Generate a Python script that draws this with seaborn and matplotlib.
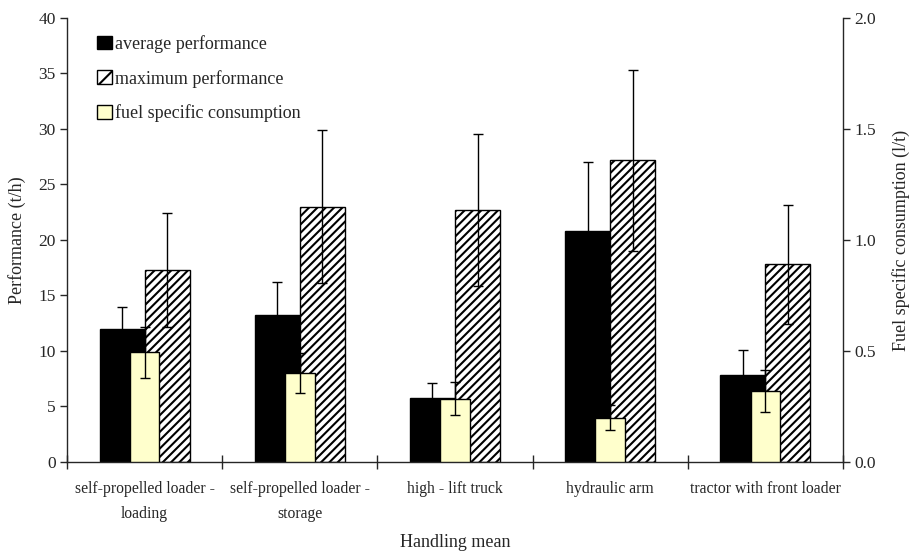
import matplotlib
matplotlib.use("Agg")
import matplotlib.pyplot as plt
from matplotlib.patches import Patch
import numpy as np
import pandas as pd
import seaborn as sns

# Handling means and measured values
categories = [
    "self-propelled loader -\nloading",
    "self-propelled loader -\nstorage",
    "high - lift truck",
    "hydraulic arm",
    "tractor with front loader",
]
avg_perf = [12.0, 13.2, 5.8, 20.8, 7.8]
avg_perf_sd = [2.0, 3.0, 1.35, 6.2, 2.3]
max_perf = [17.3, 23.0, 22.7, 27.2, 17.8]
max_perf_sd = [5.1, 6.9, 6.85, 8.15, 5.35]
fuel_cons = [0.495, 0.40, 0.285, 0.20, 0.32]
fuel_cons_sd = [0.115, 0.09, 0.075, 0.056, 0.096]

series_names = ["average performance", "maximum performance"]
yellow = "#FFFFCC"

sns.set_style("ticks")
plt.rcParams["font.family"] = ["Liberation Serif", "DejaVu Serif"]
plt.rcParams["hatch.linewidth"] = 1.5
plt.rcParams["hatch.color"] = "black"

perf = pd.DataFrame({
    "mean": categories * 2,
    "series": [series_names[0]] * 5 + [series_names[1]] * 5,
    "value": avg_perf + max_perf,
})

fig = plt.figure(figsize=(9.09, 5.53), dpi=100)
ax = fig.add_axes([0.0737, 0.1646, 0.8537, 0.8029])

sns.barplot(data=perf, x="mean", y="value", hue="series", ax=ax,
            palette=["black", "white"], edgecolor="black", linewidth=1.0,
            width=0.58, errorbar=None, legend=False, saturation=1)

# hatch the maximum-performance bars and attach error bars to every bar
n = len(categories)
bars = list(ax.patches)[: 2 * n]
for i, p in enumerate(bars):
    if i >= n:
        p.set_hatch("////")
    sd = (avg_perf_sd + max_perf_sd)[i]
    cx = p.get_x() + p.get_width() / 2
    ax.errorbar(cx, p.get_height(), yerr=sd, color="black", lw=1.0,
                capsize=3.5, capthick=1.0, fmt="none", zorder=5)

ax.set_ylim(0, 40)
ax.set_yticks(np.arange(0, 41, 5))
ax.set_xlim(-0.5, n - 0.5)

ax2 = ax.twinx()
sns.barplot(x=categories, y=fuel_cons, ax=ax2, color=yellow,
            edgecolor="black", linewidth=1.0, width=0.19, errorbar=None,
            saturation=1)
for p, sd in zip(ax2.patches, fuel_cons_sd):
    cx = p.get_x() + p.get_width() / 2
    ax2.errorbar(cx, p.get_height(), yerr=sd, color="black", lw=1.0,
                 capsize=3.5, capthick=1.0, fmt="none", zorder=5)
ax2.set_ylim(0, 2.0)
ax2.set_yticks(np.arange(0, 2.01, 0.5))
ax2.set_yticklabels([f"{v:.1f}" for v in np.arange(0, 2.01, 0.5)])
ax2.set_xlim(-0.5, n - 0.5)

# axes styling
for a in (ax, ax2):
    a.spines["top"].set_visible(False)
    for s in a.spines.values():
        s.set_linewidth(1.0)
ax.spines["right"].set_visible(False)
ax2.spines["left"].set_visible(False)
ax2.spines["bottom"].set_visible(False)

ax.tick_params(axis="y", direction="out", length=5, width=1, labelsize=12.5, pad=3)
ax2.tick_params(axis="y", direction="out", length=5, width=1, labelsize=12.5, pad=3)
ax.tick_params(axis="x", which="major", length=0, labelsize=11.3, pad=14)
ax.set_xticks(np.arange(-0.5, n, 1.0), minor=True)
ax.tick_params(axis="x", which="minor", direction="inout", length=10, width=1)
ax.set_xticklabels(categories, linespacing=1.7)

ax.set_xlabel("Handling mean", fontsize=13, labelpad=9)
ax.set_ylabel("Performance (t/h)", fontsize=13, labelpad=9)
ax2.set_ylabel("Fuel specific consumption (l/t)", fontsize=13, labelpad=12)

handles = [
    Patch(facecolor="black", edgecolor="black", lw=1.0),
    Patch(facecolor="white", edgecolor="black", hatch="//", lw=1.0),
    Patch(facecolor=yellow, edgecolor="black", lw=1.0),
]
labels = ["average performance", "maximum performance", "fuel specific consumption"]
ax2.legend(handles, labels, loc="upper left", bbox_to_anchor=(0.030, 0.978),
           frameon=False, fontsize=13, handlelength=0.8, handleheight=0.8,
           handletextpad=0.15, labelspacing=0.93, borderaxespad=0)

fig.savefig("out.png", dpi=100)
